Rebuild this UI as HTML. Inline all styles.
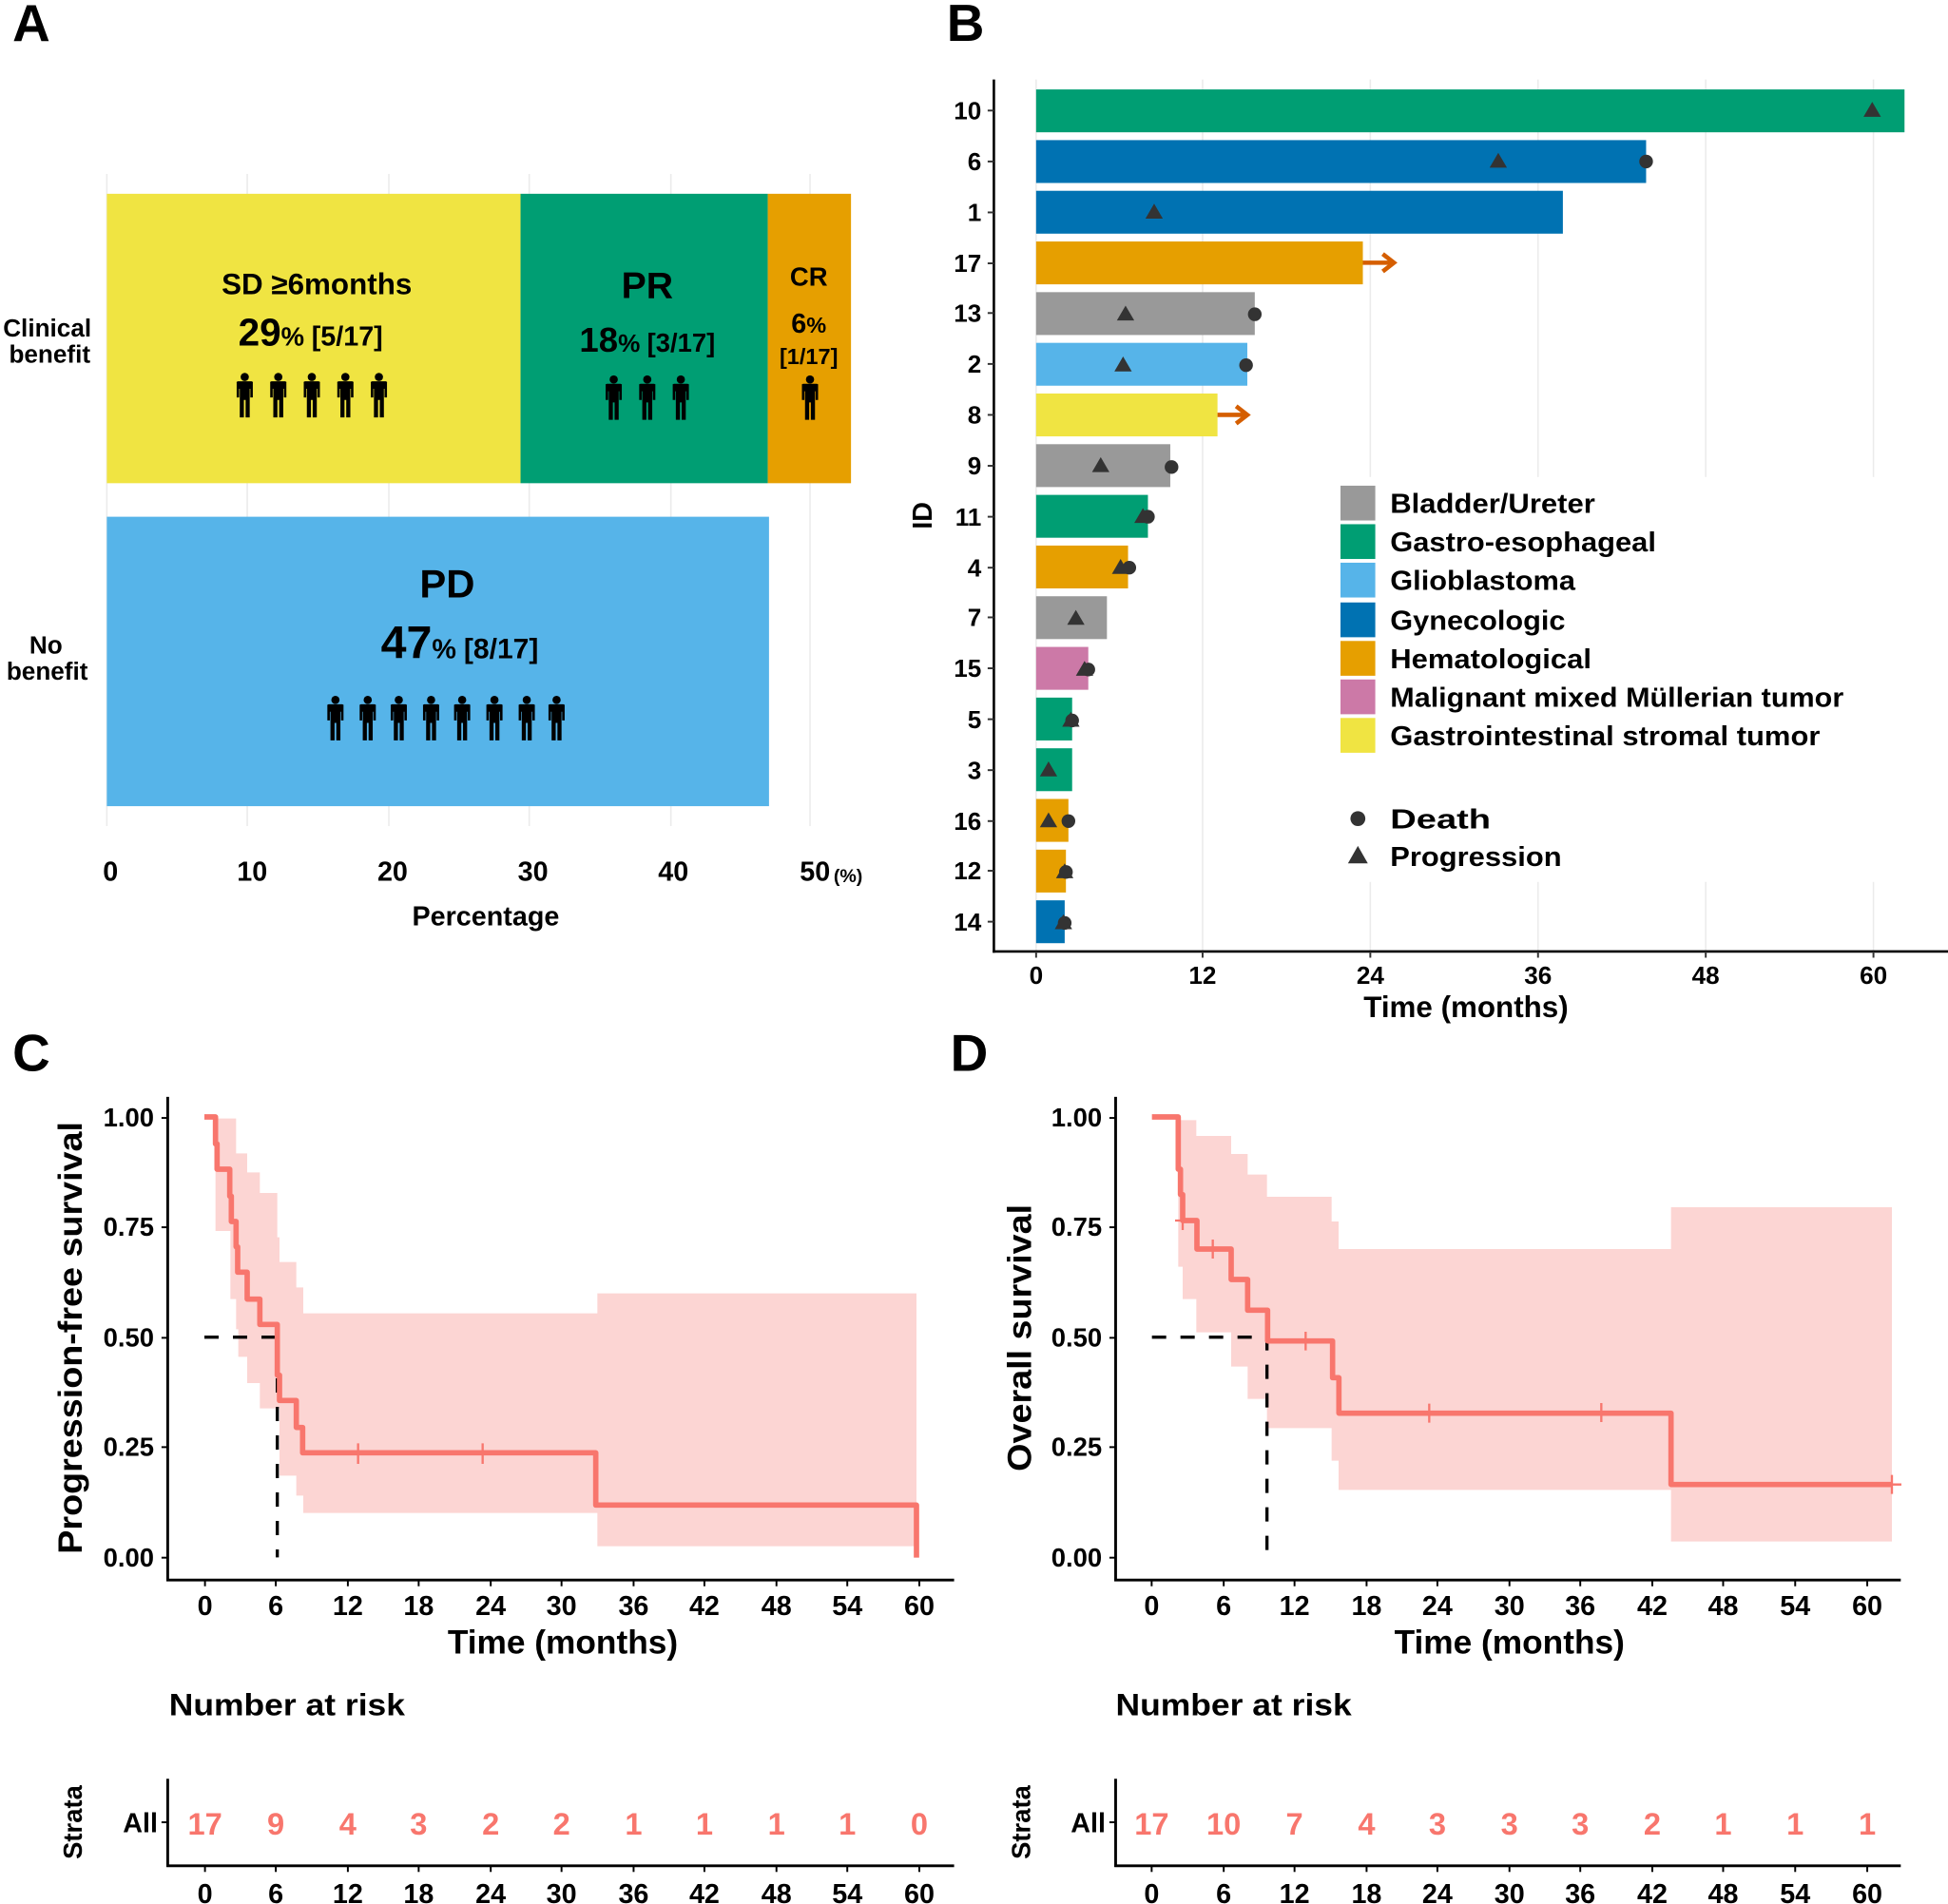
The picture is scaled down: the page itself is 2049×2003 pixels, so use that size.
<!DOCTYPE html>
<html><head><meta charset="utf-8"><style>html,body{margin:0;padding:0;background:#fff}svg{display:block}</style></head>
<body>
<svg xmlns="http://www.w3.org/2000/svg" width="2049" height="2003" viewBox="0 0 2049 2003" font-family="Liberation Sans, DejaVu Sans, sans-serif" font-weight="bold">
<defs>
<g id="p"><circle cx="0" cy="-14.5" r="3.3"/><path d="M-6.5,-10 Q-7,-10.5 -5.5,-11 L5.5,-11 Q7,-10.5 6.5,-10 L6.5,2 L4.5,2 L4.5,-5 L4,-5 L4,18 L0.7,18 L0.7,4 L-0.7,4 L-0.7,18 L-4,18 L-4,-5 L-4.5,-5 L-4.5,2 L-6.5,2 Z"/></g>
</defs>
<rect width="2049" height="2003" fill="#fff"/>
<g transform="scale(1.30676)">
<text x="10" y="33" font-size="42">A</text>
<text x="762" y="33" font-size="42">B</text>
<text x="10" y="862" font-size="42">C</text>
<text x="765" y="862" font-size="42">D</text>

<g stroke="#ebebeb" stroke-width="1.2">
<line x1="86" y1="140" x2="86" y2="665"/><line x1="199" y1="140" x2="199" y2="665"/><line x1="313" y1="140" x2="313" y2="665"/><line x1="426" y1="140" x2="426" y2="665"/><line x1="540" y1="140" x2="540" y2="665"/><line x1="652" y1="140" x2="652" y2="665"/>
</g>
<rect x="86" y="156" width="333" height="233" fill="#F0E442"/>
<rect x="419" y="156" width="199" height="233" fill="#009E73"/>
<rect x="618" y="156" width="67" height="233" fill="#E69F00"/>
<rect x="86" y="416" width="533" height="233" fill="#56B4E9"/>
<text x="255" y="237" font-size="24" text-anchor="middle">SD ≥6months</text>
<text x="250" y="278" text-anchor="middle"><tspan font-size="31">29</tspan><tspan font-size="21">% </tspan><tspan font-size="22">[5/17]</tspan></text>
<text x="521" y="240" font-size="30" text-anchor="middle">PR</text>
<text x="521" y="283" text-anchor="middle"><tspan font-size="28">18</tspan><tspan font-size="20">% </tspan><tspan font-size="21">[3/17]</tspan></text>
<text x="651" y="230" font-size="21" text-anchor="middle">CR</text>
<text x="651" y="268" font-size="22" text-anchor="middle">6<tspan font-size="18">%</tspan></text>
<text x="651" y="293" font-size="18" text-anchor="middle">[1/17]</text>
<text x="360" y="481" font-size="32" text-anchor="middle">PD</text>
<text x="370" y="530" text-anchor="middle"><tspan font-size="37">47</tspan><tspan font-size="22">% </tspan><tspan font-size="23">[8/17]</tspan></text>
<g fill="#000">
<use href="#p" x="197" y="318"/><use href="#p" x="224" y="318"/><use href="#p" x="251" y="318"/><use href="#p" x="278" y="318"/><use href="#p" x="305" y="318"/>
<use href="#p" x="494" y="320"/><use href="#p" x="521" y="320"/><use href="#p" x="548" y="320"/>
<use href="#p" x="652" y="320"/>
<use href="#p" x="270" y="578"/><use href="#p" x="296" y="578"/><use href="#p" x="321" y="578"/><use href="#p" x="347" y="578"/><use href="#p" x="372" y="578"/><use href="#p" x="398" y="578"/><use href="#p" x="424" y="578"/><use href="#p" x="448" y="578"/>
</g>
<text x="38" y="271" font-size="20" text-anchor="middle">Clinical</text>
<text x="40" y="292" font-size="20" text-anchor="middle">benefit</text>
<text x="37" y="526" font-size="20" text-anchor="middle">No</text>
<text x="38" y="547" font-size="20" text-anchor="middle">benefit</text>
<g font-size="22" text-anchor="middle">
<text x="89" y="709">0</text><text x="203" y="709">10</text><text x="316" y="709">20</text><text x="429" y="709">30</text><text x="542" y="709">40</text><text x="656" y="709">50</text>
</g>
<text x="671" y="710" font-size="15">(%)</text>
<text x="391" y="745" font-size="22" text-anchor="middle">Percentage</text>

<g stroke="#ebebeb" stroke-width="1.2">
<line x1="834" y1="64" x2="834" y2="766"/><line x1="968" y1="64" x2="968" y2="766"/><line x1="1103" y1="64" x2="1103" y2="766"/><line x1="1238" y1="64" x2="1238" y2="766"/><line x1="1373" y1="64" x2="1373" y2="766"/><line x1="1508" y1="64" x2="1508" y2="766"/>
</g>
<g>
<rect x="834" y="72" width="699" height="34.5" fill="#009E73"/>
<rect x="834" y="112.8" width="491" height="34.5" fill="#0072B2"/>
<rect x="834" y="153.6" width="424" height="34.5" fill="#0072B2"/>
<rect x="834" y="194.4" width="263" height="34.5" fill="#E69F00"/>
<rect x="834" y="235.2" width="176" height="34.5" fill="#999999"/>
<rect x="834" y="276" width="170" height="34.5" fill="#56B4E9"/>
<rect x="834" y="316.8" width="146" height="34.5" fill="#F0E442"/>
<rect x="834" y="357.6" width="108" height="34.5" fill="#999999"/>
<rect x="834" y="398.4" width="90" height="34.5" fill="#009E73"/>
<rect x="834" y="439.2" width="74" height="34.5" fill="#E69F00"/>
<rect x="834" y="480" width="57" height="34.5" fill="#999999"/>
<rect x="834" y="520.8" width="42" height="34.5" fill="#CC79A7"/>
<rect x="834" y="561.6" width="29" height="34.5" fill="#009E73"/>
<rect x="834" y="602.4" width="29" height="34.5" fill="#009E73"/>
<rect x="834" y="643.2" width="26" height="34.5" fill="#E69F00"/>
<rect x="834" y="684" width="24" height="34.5" fill="#E69F00"/>
<rect x="834" y="724.8" width="23" height="34.5" fill="#0072B2"/>
</g>
<rect x="1068" y="384" width="494" height="326" fill="#fff"/>
<g fill="#333">
<circle cx="1325" cy="130" r="5.5"/><circle cx="1010" cy="253" r="5.5"/><circle cx="1003" cy="294" r="5.5"/><circle cx="943" cy="376" r="5.5"/><circle cx="924" cy="416" r="5.5"/><circle cx="909" cy="457" r="5.5"/><circle cx="876" cy="539" r="5.5"/><circle cx="863" cy="580" r="5.5"/><circle cx="860" cy="661" r="5.5"/><circle cx="858" cy="702" r="5.5"/><circle cx="857" cy="743" r="5.5"/>
</g>
<g fill="#333">
<path d="M1507,82 l7,12 h-14 z"/><path d="M1206,123 l7,12 h-14 z"/><path d="M929,164 l7,12 h-14 z"/><path d="M906,246 l7,12 h-14 z"/><path d="M904,287 l7,12 h-14 z"/><path d="M886,368 l7,12 h-14 z"/><path d="M920,409 l7,12 h-14 z"/><path d="M902,450 l7,12 h-14 z"/><path d="M866,491 l7,12 h-14 z"/><path d="M873,532 l7,12 h-14 z"/><path d="M862,573 l7,12 h-14 z"/><path d="M844,613 l7,12 h-14 z"/><path d="M844,654 l7,12 h-14 z"/><path d="M857,695 l7,12 h-14 z"/><path d="M856,736 l7,12 h-14 z"/>
</g>
<g stroke="#D55E00" stroke-width="3.5" fill="none">
<line x1="1097" y1="211.5" x2="1122" y2="211.5"/><path d="M1113,204.5 L1122,211.5 L1113,218.5"/>
<line x1="980" y1="334" x2="1004" y2="334"/><path d="M995,327 L1004,334 L995,341"/>
</g>
<line x1="800" y1="64" x2="800" y2="767" stroke="#000" stroke-width="2"/>
<line x1="799" y1="766" x2="1568" y2="766" stroke="#000" stroke-width="2"/>
<g stroke="#333" stroke-width="1.5">
<line x1="795" y1="89" x2="800" y2="89"/><line x1="795" y1="130" x2="800" y2="130"/><line x1="795" y1="171" x2="800" y2="171"/><line x1="795" y1="212" x2="800" y2="212"/><line x1="795" y1="252" x2="800" y2="252"/><line x1="795" y1="293" x2="800" y2="293"/><line x1="795" y1="334" x2="800" y2="334"/><line x1="795" y1="375" x2="800" y2="375"/><line x1="795" y1="416" x2="800" y2="416"/><line x1="795" y1="457" x2="800" y2="457"/><line x1="795" y1="497" x2="800" y2="497"/><line x1="795" y1="538" x2="800" y2="538"/><line x1="795" y1="579" x2="800" y2="579"/><line x1="795" y1="620" x2="800" y2="620"/><line x1="795" y1="661" x2="800" y2="661"/><line x1="795" y1="701" x2="800" y2="701"/><line x1="795" y1="742" x2="800" y2="742"/>
<line x1="834" y1="766" x2="834" y2="771"/><line x1="968" y1="766" x2="968" y2="771"/><line x1="1103" y1="766" x2="1103" y2="771"/><line x1="1238" y1="766" x2="1238" y2="771"/><line x1="1373" y1="766" x2="1373" y2="771"/><line x1="1508" y1="766" x2="1508" y2="771"/>
</g>
<g font-size="20" text-anchor="end">
<text x="790" y="96">10</text><text x="790" y="137">6</text><text x="790" y="178">1</text><text x="790" y="219">17</text><text x="790" y="259">13</text><text x="790" y="300">2</text><text x="790" y="341">8</text><text x="790" y="382">9</text><text x="790" y="423">11</text><text x="790" y="464">4</text><text x="790" y="504">7</text><text x="790" y="545">15</text><text x="790" y="586">5</text><text x="790" y="627">3</text><text x="790" y="668">16</text><text x="790" y="708">12</text><text x="790" y="749">14</text>
</g>
<text transform="translate(750,415) rotate(-90)" font-size="22" text-anchor="middle">ID</text>
<g font-size="20" text-anchor="middle">
<text x="834" y="792">0</text><text x="968" y="792">12</text><text x="1103" y="792">24</text><text x="1238" y="792">36</text><text x="1373" y="792">48</text><text x="1508" y="792">60</text>
</g>
<text x="1180" y="819" font-size="24" text-anchor="middle">Time (months)</text>
<rect x="1079" y="391" width="28" height="28" fill="#999999"/>
<rect x="1079" y="422" width="28" height="28" fill="#009E73"/>
<rect x="1079" y="453" width="28" height="28" fill="#56B4E9"/>
<rect x="1079" y="485" width="28" height="28" fill="#0072B2"/>
<rect x="1079" y="516" width="28" height="28" fill="#E69F00"/>
<rect x="1079" y="547" width="28" height="28" fill="#CC79A7"/>
<rect x="1079" y="578" width="28" height="28" fill="#F0E442"/>
<g font-size="22">
<text x="1119" y="413" textLength="165" lengthAdjust="spacingAndGlyphs">Bladder/Ureter</text>
<text x="1119" y="444" textLength="214" lengthAdjust="spacingAndGlyphs">Gastro-esophageal</text>
<text x="1119" y="475" textLength="149" lengthAdjust="spacingAndGlyphs">Glioblastoma</text>
<text x="1119" y="507" textLength="141" lengthAdjust="spacingAndGlyphs">Gynecologic</text>
<text x="1119" y="538" textLength="162" lengthAdjust="spacingAndGlyphs">Hematological</text>
<text x="1119" y="569" textLength="365" lengthAdjust="spacingAndGlyphs">Malignant mixed Müllerian tumor</text>
<text x="1119" y="600" textLength="346" lengthAdjust="spacingAndGlyphs">Gastrointestinal stromal tumor</text>
<text x="1119" y="667" textLength="81" lengthAdjust="spacingAndGlyphs">Death</text>
<text x="1119" y="697" textLength="138" lengthAdjust="spacingAndGlyphs">Progression</text>
</g>
<circle cx="1093" cy="659" r="6" fill="#333"/>
<path d="M1093,681 l8,14 h-16 z" fill="#333"/>

<g stroke="#000" stroke-width="2.2">
<line x1="135" y1="883" x2="135" y2="1273"/><line x1="134" y1="1272" x2="768" y2="1272"/>
<line x1="898" y1="883" x2="898" y2="1273"/><line x1="897" y1="1272" x2="1530" y2="1272"/>
</g>
<g stroke="#000" stroke-width="1.5">
<line x1="130" y1="900" x2="135" y2="900"/><line x1="130" y1="988" x2="135" y2="988"/><line x1="130" y1="1077" x2="135" y2="1077"/><line x1="130" y1="1165" x2="135" y2="1165"/><line x1="130" y1="1254" x2="135" y2="1254"/>
<line x1="893" y1="900" x2="898" y2="900"/><line x1="893" y1="988" x2="898" y2="988"/><line x1="893" y1="1077" x2="898" y2="1077"/><line x1="893" y1="1165" x2="898" y2="1165"/><line x1="893" y1="1254" x2="898" y2="1254"/>
</g>
<g font-size="21" text-anchor="end">
<text x="124" y="907">1.00</text><text x="124" y="995">0.75</text><text x="124" y="1084">0.50</text><text x="124" y="1172">0.25</text><text x="124" y="1261">0.00</text>
<text x="887" y="907">1.00</text><text x="887" y="995">0.75</text><text x="887" y="1084">0.50</text><text x="887" y="1172">0.25</text><text x="887" y="1261">0.00</text>
</g>
<g font-size="22" text-anchor="middle">
<text x="165" y="1300">0</text><text x="222" y="1300">6</text><text x="280" y="1300">12</text><text x="337" y="1300">18</text><text x="395" y="1300">24</text><text x="452" y="1300">30</text><text x="510" y="1300">36</text><text x="567" y="1300">42</text><text x="625" y="1300">48</text><text x="682" y="1300">54</text><text x="740" y="1300">60</text>
<text x="927" y="1300">0</text><text x="985" y="1300">6</text><text x="1042" y="1300">12</text><text x="1100" y="1300">18</text><text x="1157" y="1300">24</text><text x="1215" y="1300">30</text><text x="1272" y="1300">36</text><text x="1330" y="1300">42</text><text x="1387" y="1300">48</text><text x="1445" y="1300">54</text><text x="1503" y="1300">60</text>
</g>
<g stroke="#000" stroke-width="1.5">
<line x1="165" y1="1272" x2="165" y2="1277"/><line x1="222" y1="1272" x2="222" y2="1277"/><line x1="280" y1="1272" x2="280" y2="1277"/><line x1="337" y1="1272" x2="337" y2="1277"/><line x1="395" y1="1272" x2="395" y2="1277"/><line x1="452" y1="1272" x2="452" y2="1277"/><line x1="510" y1="1272" x2="510" y2="1277"/><line x1="567" y1="1272" x2="567" y2="1277"/><line x1="625" y1="1272" x2="625" y2="1277"/><line x1="682" y1="1272" x2="682" y2="1277"/><line x1="740" y1="1272" x2="740" y2="1277"/>
<line x1="927" y1="1272" x2="927" y2="1277"/><line x1="985" y1="1272" x2="985" y2="1277"/><line x1="1042" y1="1272" x2="1042" y2="1277"/><line x1="1100" y1="1272" x2="1100" y2="1277"/><line x1="1157" y1="1272" x2="1157" y2="1277"/><line x1="1215" y1="1272" x2="1215" y2="1277"/><line x1="1272" y1="1272" x2="1272" y2="1277"/><line x1="1330" y1="1272" x2="1330" y2="1277"/><line x1="1387" y1="1272" x2="1387" y2="1277"/><line x1="1445" y1="1272" x2="1445" y2="1277"/><line x1="1503" y1="1272" x2="1503" y2="1277"/>
</g>
<text x="453" y="1331" font-size="27" text-anchor="middle">Time (months)</text>
<text x="1215" y="1331" font-size="27" text-anchor="middle">Time (months)</text>
<text transform="translate(66,1077) rotate(-90)" font-size="27" text-anchor="middle" textLength="348" lengthAdjust="spacingAndGlyphs">Progression-free survival</text>
<text transform="translate(830,1077) rotate(-90)" font-size="27" text-anchor="middle" textLength="215" lengthAdjust="spacingAndGlyphs">Overall survival</text>

<text x="136" y="1381" font-size="25" textLength="190" lengthAdjust="spacingAndGlyphs">Number at risk</text>
<text x="898" y="1381" font-size="25" textLength="190" lengthAdjust="spacingAndGlyphs">Number at risk</text>
<g stroke="#000" stroke-width="2.2">
<line x1="135" y1="1432" x2="135" y2="1503"/><line x1="134" y1="1502" x2="768" y2="1502"/>
<line x1="898" y1="1432" x2="898" y2="1503"/><line x1="897" y1="1502" x2="1530" y2="1502"/>
<line x1="130" y1="1467" x2="135" y2="1467" stroke-width="1.5"/><line x1="893" y1="1467" x2="898" y2="1467" stroke-width="1.5"/>
</g>
<text x="127" y="1475" font-size="22" text-anchor="end">All</text>
<text x="890" y="1475" font-size="22" text-anchor="end">All</text>
<text transform="translate(66,1467) rotate(-90)" font-size="21" text-anchor="middle">Strata</text>
<text transform="translate(829,1467) rotate(-90)" font-size="21" text-anchor="middle">Strata</text>
<g font-size="25" fill="#F8766D" text-anchor="middle">
<text x="165" y="1477">17</text><text x="222" y="1477">9</text><text x="280" y="1477">4</text><text x="337" y="1477">3</text><text x="395" y="1477">2</text><text x="452" y="1477">2</text><text x="510" y="1477">1</text><text x="567" y="1477">1</text><text x="625" y="1477">1</text><text x="682" y="1477">1</text><text x="740" y="1477">0</text>
<text x="927" y="1477">17</text><text x="985" y="1477">10</text><text x="1042" y="1477">7</text><text x="1100" y="1477">4</text><text x="1157" y="1477">3</text><text x="1215" y="1477">3</text><text x="1272" y="1477">3</text><text x="1330" y="1477">2</text><text x="1387" y="1477">1</text><text x="1445" y="1477">1</text><text x="1503" y="1477">1</text>
</g>
<g font-size="22" text-anchor="middle">
<text x="165" y="1532">0</text><text x="222" y="1532">6</text><text x="280" y="1532">12</text><text x="337" y="1532">18</text><text x="395" y="1532">24</text><text x="452" y="1532">30</text><text x="510" y="1532">36</text><text x="567" y="1532">42</text><text x="625" y="1532">48</text><text x="682" y="1532">54</text><text x="740" y="1532">60</text>
<text x="927" y="1532">0</text><text x="985" y="1532">6</text><text x="1042" y="1532">12</text><text x="1100" y="1532">18</text><text x="1157" y="1532">24</text><text x="1215" y="1532">30</text><text x="1272" y="1532">36</text><text x="1330" y="1532">42</text><text x="1387" y="1532">48</text><text x="1445" y="1532">54</text><text x="1503" y="1532">60</text>
</g>
<g stroke="#000" stroke-width="1.5">
<line x1="165" y1="1502" x2="165" y2="1507"/><line x1="222" y1="1502" x2="222" y2="1507"/><line x1="280" y1="1502" x2="280" y2="1507"/><line x1="337" y1="1502" x2="337" y2="1507"/><line x1="395" y1="1502" x2="395" y2="1507"/><line x1="452" y1="1502" x2="452" y2="1507"/><line x1="510" y1="1502" x2="510" y2="1507"/><line x1="567" y1="1502" x2="567" y2="1507"/><line x1="625" y1="1502" x2="625" y2="1507"/><line x1="682" y1="1502" x2="682" y2="1507"/><line x1="740" y1="1502" x2="740" y2="1507"/>
<line x1="927" y1="1502" x2="927" y2="1507"/><line x1="985" y1="1502" x2="985" y2="1507"/><line x1="1042" y1="1502" x2="1042" y2="1507"/><line x1="1100" y1="1502" x2="1100" y2="1507"/><line x1="1157" y1="1502" x2="1157" y2="1507"/><line x1="1215" y1="1502" x2="1215" y2="1507"/><line x1="1272" y1="1502" x2="1272" y2="1507"/><line x1="1330" y1="1502" x2="1330" y2="1507"/><line x1="1387" y1="1502" x2="1387" y2="1507"/><line x1="1445" y1="1502" x2="1445" y2="1507"/><line x1="1503" y1="1502" x2="1503" y2="1507"/>
</g>
</g>

<g transform="translate(180 1140) scale(0.33333)">
<path fill="#FCD5D3" d="M140,110 L205,110 L205,220 L240,220 L240,280 L280,280 L280,345 L335,345 L335,485 L342,485 L342,563 L395,563 L395,643 L417,643 L417,725 L1345,725 L1345,662 L2352,662 L2352,1460 L1345,1460 L1345,1355 L417,1355 L417,1300 L395,1300 L395,1237 L342,1237 L342,1025 L280,1025 L280,945 L240,945 L240,862 L212,862 L212,775 L205,775 L205,680 L187,680 L187,465 L140,465 Z"/>
<path fill="none" stroke="#000" stroke-width="10" stroke-dasharray="45,45" d="M105,800 L335,800 L335,1495"/>
<path fill="none" stroke="#F8766D" stroke-width="17" stroke-linejoin="round" d="M105,105 L140,105 L140,190 L145,190 L145,270 L185,270 L185,355 L190,355 L190,435 L205,435 L205,515 L210,515 L210,595 L240,595 L240,680 L280,680 L280,760 L335,760 L335,920 L342,920 L342,1000 L395,1000 L395,1085 L415,1085 L415,1165 L1340,1165 L1340,1330 L2352,1330 L2352,1496"/>
<path stroke="#F8766D" stroke-width="7" d="M590,1135 V1200 M983,1135 V1200"/>
</g>

<g transform="translate(1180 1140) scale(0.33333)">
<path fill="#FCD5D3" d="M178,115 L235,115 L235,165 L345,165 L345,222 L397,222 L397,287 L458,287 L458,357 L662,357 L662,435 L684,435 L684,522 L1733,522 L1733,390 L2430,390 L2430,1445 L1733,1445 L1733,1282 L684,1282 L684,1190 L662,1190 L662,1087 L458,1087 L458,995 L397,995 L397,893 L345,893 L345,785 L235,785 L235,680 L192,680 L192,578 L178,578 Z"/>
<path fill="none" stroke="#000" stroke-width="10" stroke-dasharray="45,45" d="M95,800 L458,800 L458,1495"/>
<path fill="none" stroke="#F8766D" stroke-width="17" stroke-linejoin="round" d="M95,105 L178,105 L178,270 L185,270 L185,350 L192,350 L192,432 L237,432 L237,522 L345,522 L345,618 L397,618 L397,715 L460,715 L460,812 L665,812 L665,928 L685,928 L685,1040 L1733,1040 L1733,1265 L2430,1265"/>
<path stroke="#F8766D" stroke-width="7" d="M168,432 H200 M192,405 V462 M287,492 V552 M580,783 V842 M970,1010 V1070 M1513,1008 V1068 M2430,1235 V1295 M2400,1265 H2460"/>
</g>
</svg>
</body></html>
